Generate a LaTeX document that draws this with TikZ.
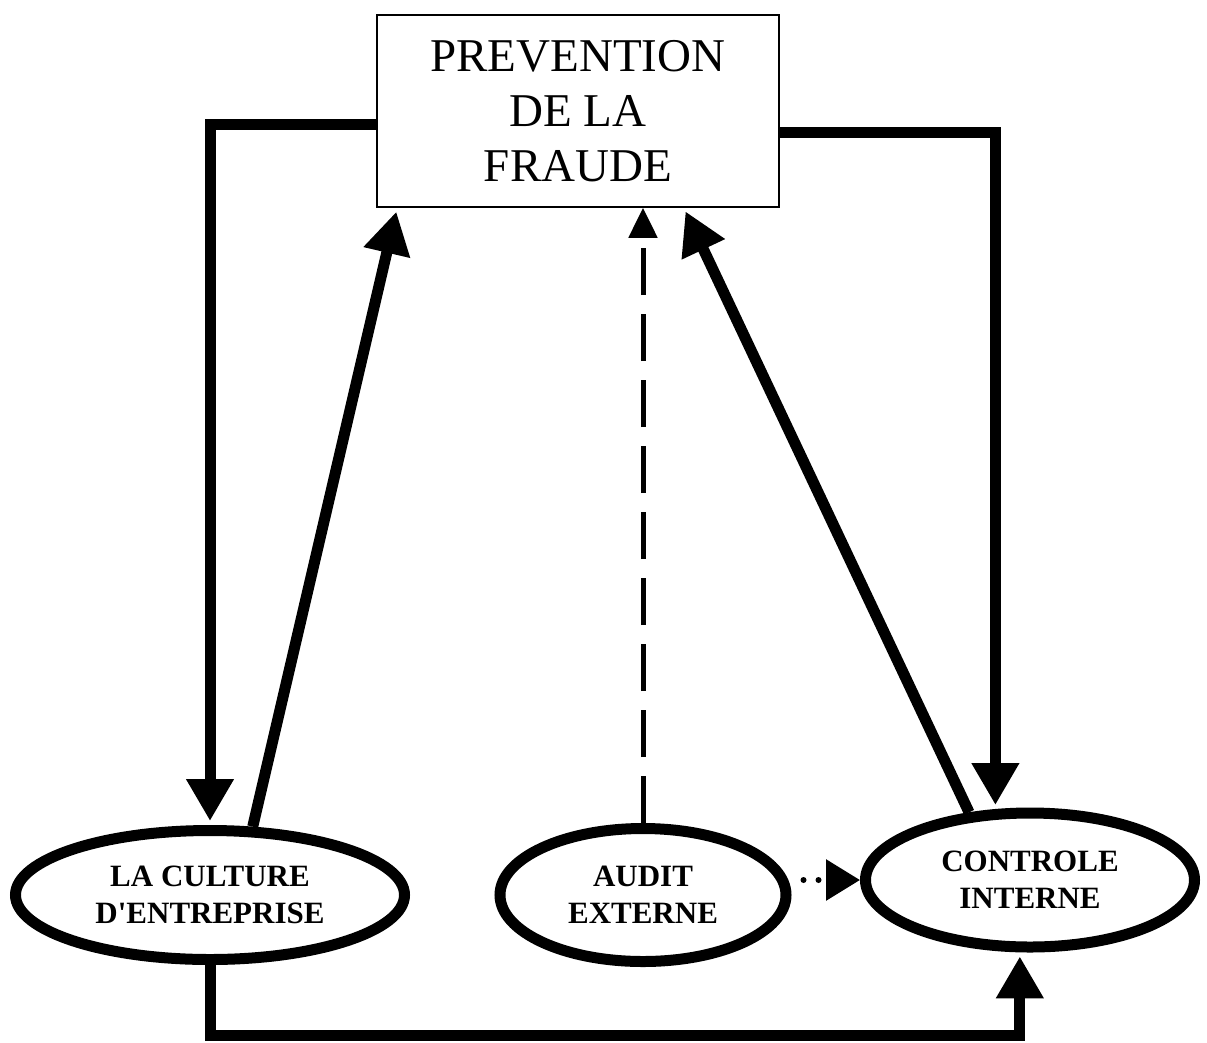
\documentclass[tikz,border=0pt]{standalone}
\usepackage{fontspec}
\setmainfont{Liberation Serif}
\usetikzlibrary{arrows.meta,shapes.geometric}

\tikzset{
  boite/.style={draw,line width=1.5pt,minimum width=402pt,minimum height=192pt,align=center,font=\fontsize{47}{55}\selectfont},
  bulle/.style={draw,ellipse,line width=11pt,inner sep=0pt,align=center,font=\bfseries\fontsize{31}{37}\selectfont},
  fleche/.style={line width=11pt,shorten >=4pt,-{Triangle[width=45pt,length=42pt]}}
}

\begin{document}
\begin{tikzpicture}[x=1pt,y=-1pt]
\useasboundingbox (0,0) rectangle (1207,1042);

\node[boite] (prev) at (578,111) {PREVENTION\\DE LA\\FRAUDE};
\node[bulle,minimum width=389pt,minimum height=129pt] (culture) at (210,895) {LA CULTURE\\D\textquotesingle ENTREPRISE};
\node[bulle,minimum width=286pt,minimum height=133pt] (audit) at (643,895) {AUDIT\\EXTERNE};
\node[bulle,minimum width=329pt,minimum height=134pt] (controle) at (1030,880) {CONTROLE\\INTERNE};
\coordinate (bas) at (0,1035);

\draw[fleche] ([yshift=-13.5pt]prev.west) -| (culture.north);
\draw[fleche] (culture.58) -- ([xshift=21pt]prev.south west);

\draw[line width=5pt,dash pattern=on 47pt off 19pt,-{Triangle[width=28pt,length=30pt]}] (audit.north) -- (audit.north |- prev.south);
\draw[line width=6pt,line cap=round,dash pattern=on 0pt off 15pt,shorten <=12pt,-{Triangle[width=40pt,length=34pt]}] (audit.east |- controle.west) -- (controle.west);

\draw[fleche] (controle.132) -- ([xshift=-96pt]prev.south east);
\draw[fleche] ([yshift=-21.5pt]prev.east) -| (controle.116);

\draw[fleche] (culture.south) |- (bas -| controle.262) -- (controle.262);
\end{tikzpicture}
\end{document}
